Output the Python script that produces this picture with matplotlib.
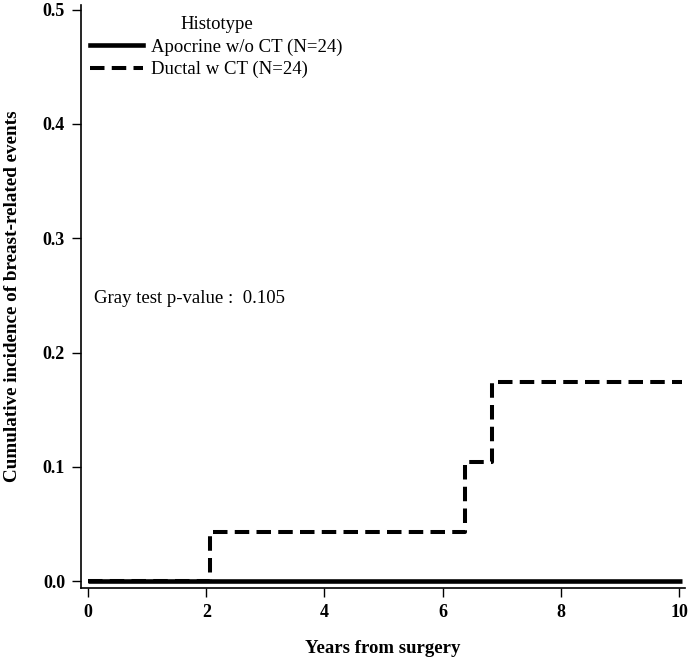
import matplotlib
matplotlib.use('Agg')
import matplotlib.pyplot as plt
from matplotlib.lines import Line2D

# step curves
apocrine_t = [0.0, 10.05]
apocrine_ci = [0.0, 0.0]
ductal_t = [0.0, 2.07, 6.37, 6.83, 10.05]
ductal_ci = [0.0, 0.043, 0.104, 0.174, 0.174]

xticks = [0, 2, 4, 6, 8, 10]
yticks = [0.0, 0.1, 0.2, 0.3, 0.4, 0.5]
labels = ['Apocrine w/o CT (N=24)', 'Ductal w CT (N=24)']
pval = 0.105

plt.rcParams['font.family'] = ['Liberation Serif', 'DejaVu Serif']

fig = plt.figure(figsize=(6.88, 6.61), dpi=100)
ax = fig.add_axes([81 / 688, 73 / 661, 604 / 688, 583 / 661])

dash = (3.6, 1.8)
ax.step(apocrine_t, apocrine_ci, where='post', color='black', lw=3.3,
        solid_capstyle='butt')
ax.step(ductal_t, ductal_ci, where='post', color='black', lw=2.9,
        dashes=dash)

ax.set_xlim(-0.12, 10.1)
ax.set_ylim(-0.006, 0.504)
ax.set_xticks(xticks)
ax.set_xticklabels([str(t) for t in xticks], fontweight='bold', fontsize=13)
ax.set_yticks(yticks)
ax.set_yticklabels([f'{t:.1f}' for t in yticks], fontweight='bold', fontsize=13)
ax.tick_params(axis='x', length=6.5, width=1, pad=5)
ax.tick_params(axis='y', length=6.5, width=1, pad=5)
for s in ['top', 'right']:
    ax.spines[s].set_visible(False)
for s in ['left', 'bottom']:
    ax.spines[s].set_linewidth(1.2)

ax.set_xlabel('Years from surgery', fontweight='bold', fontsize=13.5)
ax.set_ylabel('Cumulative incidence of breast-related events', fontweight='bold',
              fontsize=13.8)
ax.xaxis.set_label_coords(0.5, -0.09)
ax.yaxis.set_label_coords(-0.1, 0.5)

ax.text(0.1, 0.247, f'Gray test p-value :  {pval}', fontsize=13.5, va='center')

handles = [Line2D([], [], color='black', lw=3.3),
           Line2D([], [], color='black', lw=2.9, dashes=dash)]
leg = ax.legend(handles, labels, title='Histotype', loc='upper left',
                bbox_to_anchor=(0.0, 0.997), frameon=False, fontsize=13.5,
                title_fontsize=13.5, handlelength=2.8, handletextpad=0.45,
                labelspacing=0.28, borderaxespad=0.2, borderpad=0.3)

fig.savefig('out.png', dpi=100)
